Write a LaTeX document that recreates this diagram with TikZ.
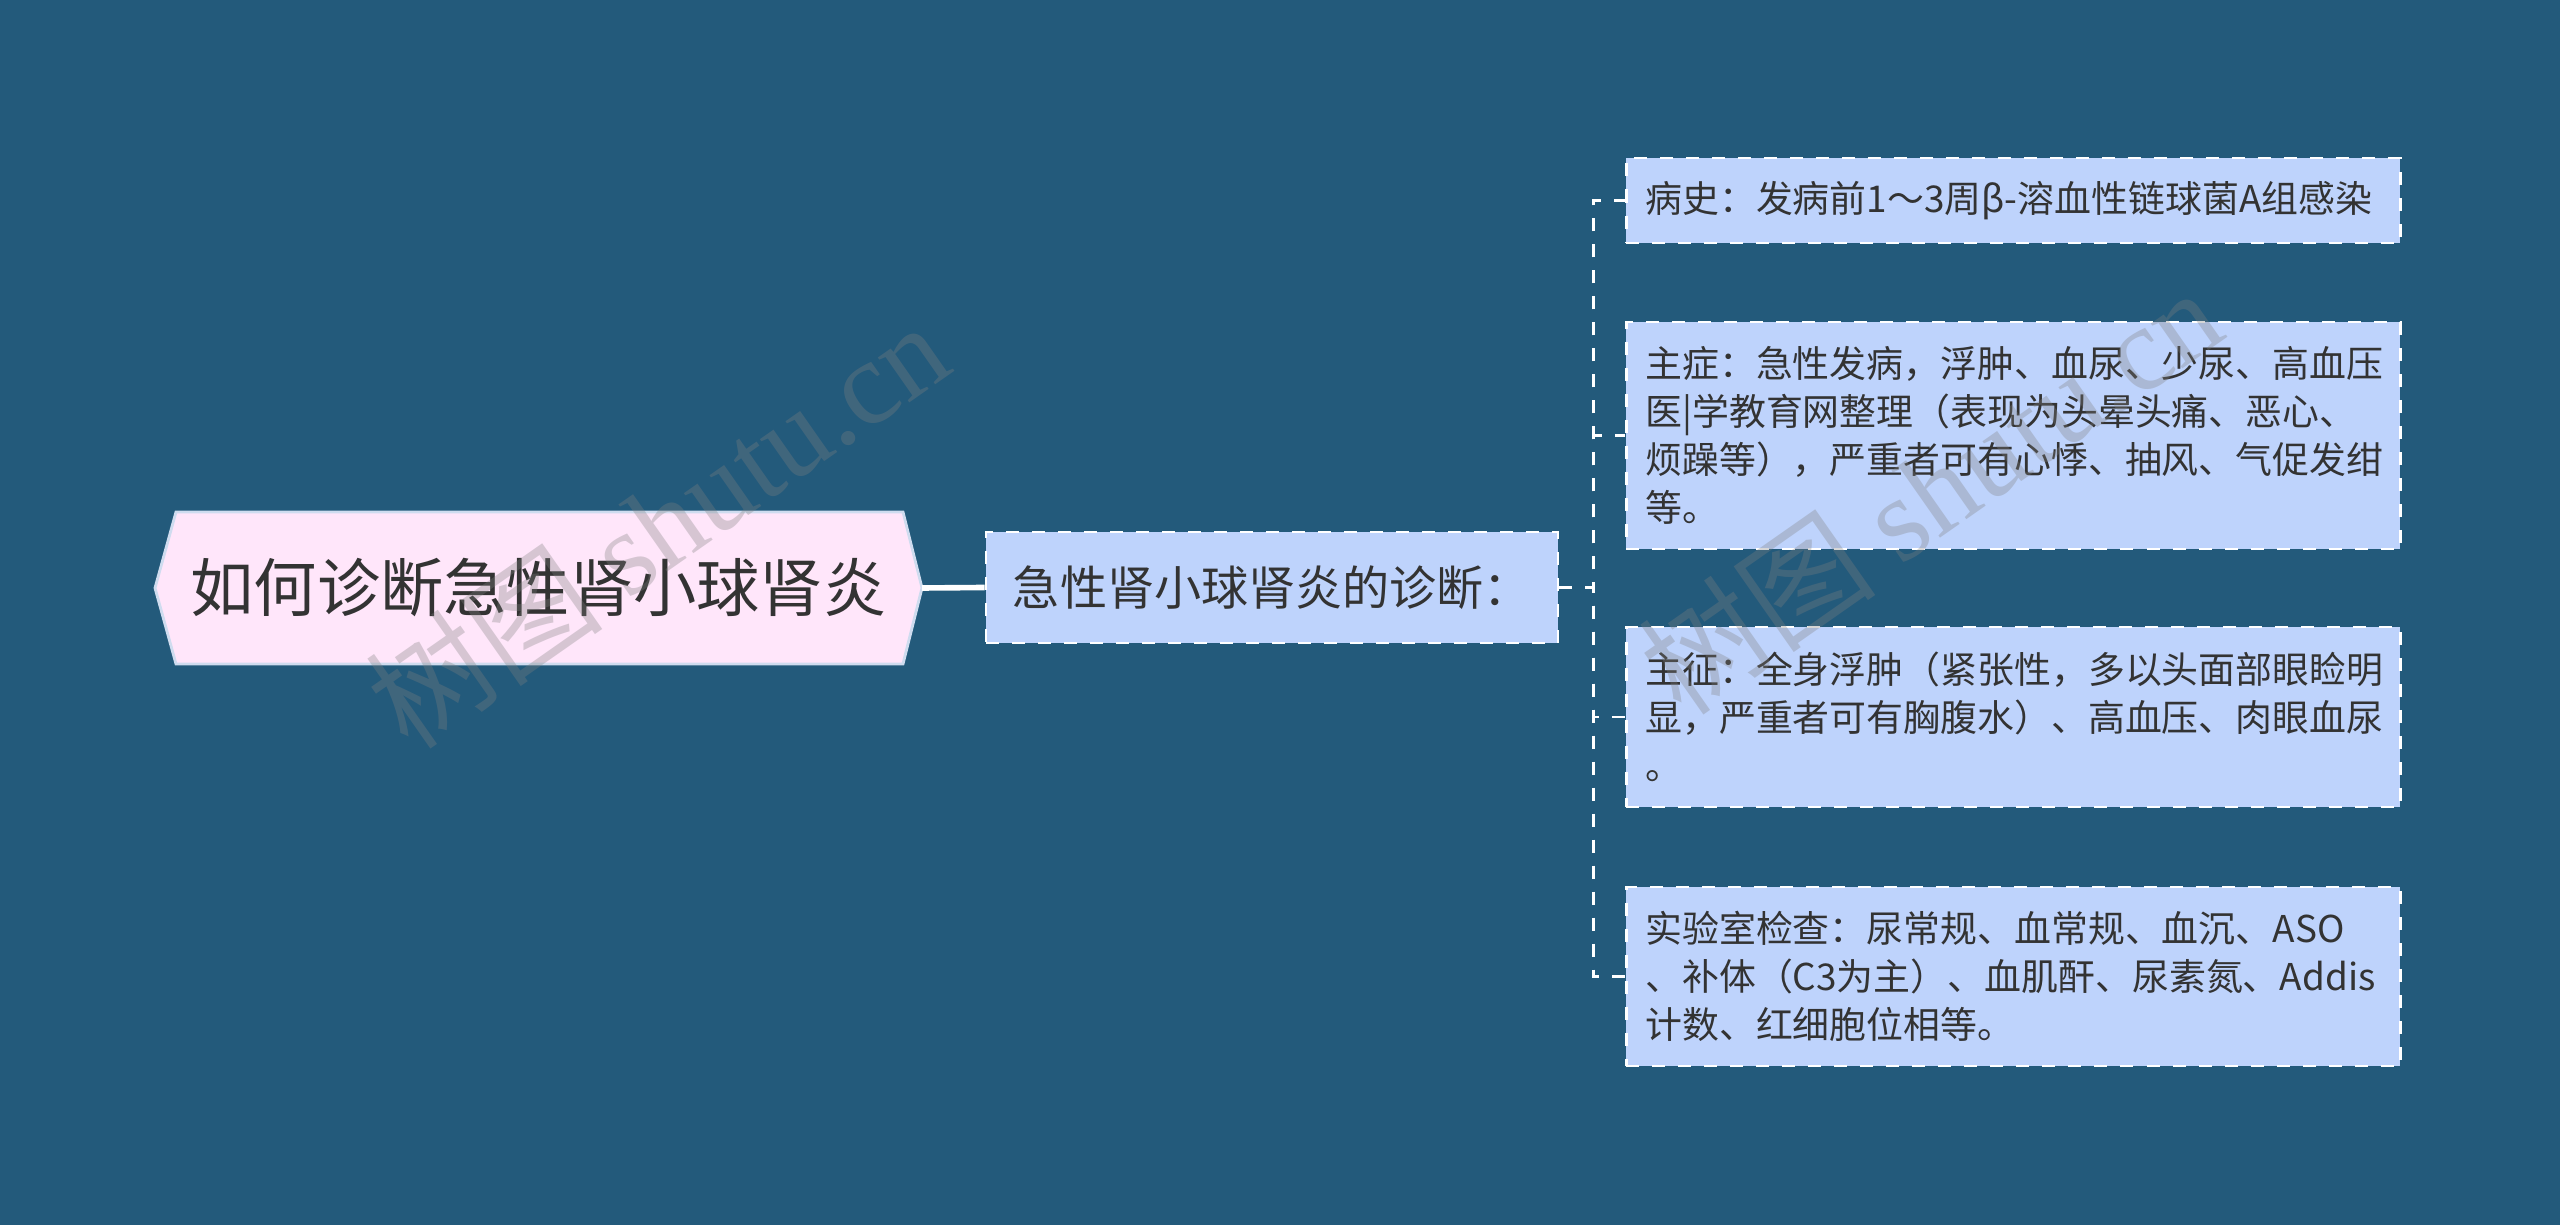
\documentclass[tikz,border=0pt]{standalone}
\usepackage{fontspec}
\setmainfont{Noto Sans CJK SC}
\newfontfamily\wmlatin{Liberation Serif}
\definecolor{bgblue}{HTML}{235A7B}
\definecolor{leafblue}{HTML}{BED3FC}
\definecolor{rootpink}{HTML}{FFE6FA}
\definecolor{rootline}{HTML}{CFDCEF}
\definecolor{inkgray}{HTML}{333333}
\tikzset{
	leaf/.style={fill=leafblue,draw=white,line width=0.75pt,dash pattern=on 3.7pt off 3.7pt,text=inkgray,font=\fontsize{10.5}{13.6}\selectfont,align=left,text width=7.36cm,inner xsep=0.19cm,anchor=west},
	hub/.style={fill=leafblue,draw=white,line width=0.75pt,dash pattern=on 3.7pt off 3.7pt,text=inkgray,font=\fontsize{13.4}{16}\selectfont,minimum width=5.72cm,minimum height=1.11cm},
	rootbox/.style={text=inkgray,font=\fontsize{18}{22}\selectfont,inner sep=0pt},
	mainlink/.style={white,line width=1.6pt},
	sublink/.style={white,line width=0.75pt,dash pattern=on 3.7pt off 3.7pt},
	wmark/.style={gray,opacity=0.32,font=\fontsize{34}{40}\selectfont,inner sep=0pt}
}
\begin{document}
\begin{tikzpicture}
	\fill[bgblue] (0,0) rectangle (25.6,-12.25);
	\useasboundingbox (0,0) rectangle (25.6,-12.25);
	% root
	\filldraw[fill=rootpink,draw=rootline,line width=0.8pt] (1.55,-5.88) -- (1.76,-5.12) -- (9.03,-5.12) -- (9.22,-5.88) -- (9.03,-6.64) -- (1.76,-6.64) -- cycle;
	\node[rootbox] (root) at (5.385,-5.88) {如何诊断急性肾小球肾炎};
	\coordinate (rootTip) at (9.22,-5.88);
	\node[hub] (hub) at (12.72,-5.875) {急性肾小球肾炎的诊断：};
	% leaves
	\node[leaf,minimum height=0.85cm] (history) at (16.25,-2.005) {病史：发病前1～3周β-溶血性链球菌A组感染};
	\node[leaf,minimum height=2.27cm] (symptom) at (16.25,-4.355) {主症：急性发病，浮肿、血尿、少尿、高血压\\医|学教育网整理（表现为头晕头痛、恶心、\\烦躁等），严重者可有心悸、抽风、气促发绀\\等。};
	\node[leaf,minimum height=1.80cm] (sign) at (16.25,-7.17) {主征：全身浮肿（紧张性，多以头面部眼睑明\\显，严重者可有胸腹水）、高血压、肉眼血尿\\。};
	\node[leaf,minimum height=1.79cm] (lab) at (16.25,-9.765) {实验室检查：尿常规、血常规、血沉、ASO\\、补体（C3为主）、血肌酐、尿素氮、Addis\\计数、红细胞位相等。};
	% links
	\draw[mainlink] (rootTip) -- (hub.west);
	\draw[sublink] (hub.east) -- ++(0.34,0) |- (history.west);
	\draw[sublink] (hub.east) -- ++(0.34,0) |- (symptom.west);
	\draw[sublink] (hub.east) -- ++(0.34,0) |- (sign.west);
	\draw[sublink] (hub.east) -- ++(0.34,0) |- (lab.west);
	% watermarks
	\node[wmark,rotate=35] (wmA) at (6.57,-5.24) {树图 {\wmlatin shutu.cn}};
	\node[wmark,rotate=35] (wmB) at (19.3,-4.9) {树图 {\wmlatin shutu.cn}};
\end{tikzpicture}
\end{document}
